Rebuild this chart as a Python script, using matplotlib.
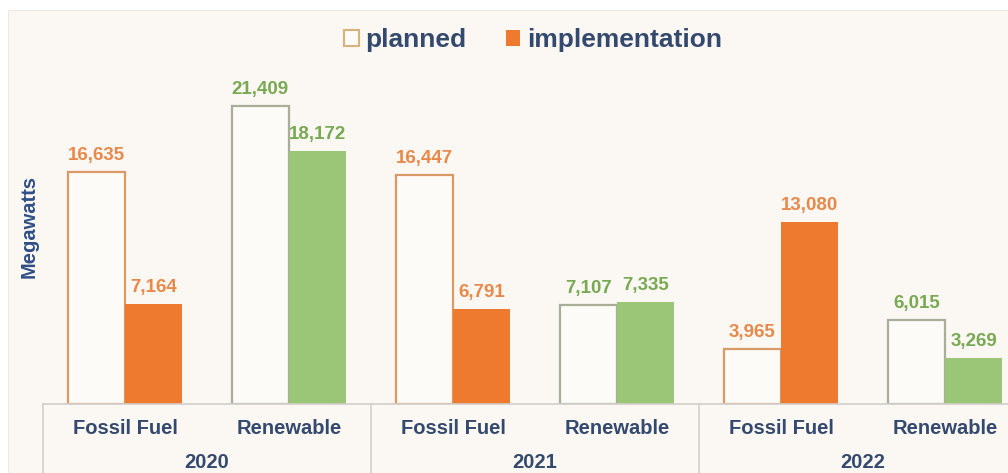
import matplotlib
matplotlib.use("Agg")
import matplotlib.pyplot as plt
from matplotlib.patches import Patch, Rectangle

plt.rcParams["font.family"] = ["Liberation Sans", "DejaVu Sans"]
plt.rcParams["font.weight"] = "bold"

# ── data ──────────────────────────────────────────────────────────────────────
years = ["2020", "2021", "2022"]
sources = ["Fossil Fuel", "Renewable"]
planned = [16635, 21409, 16447, 7107, 3965, 6015]
implementation = [7164, 18172, 6791, 7335, 13080, 3269]

# ── colours ───────────────────────────────────────────────────────────────────
BG = "#FBF7F3"
TEXT_BLUE = "#34496E"
ORANGE = "#EE7A30"
GREEN = "#9CC677"
ORANGE_LABEL = "#E8894A"
GREEN_LABEL = "#78A953"
ORANGE_EDGE = "#D99A68"
GREEN_EDGE = "#A9AE98"
GRID = "#D3CEC9"

fig = plt.figure(figsize=(10.08, 4.73), dpi=100, facecolor="white")
fig.patches.append(Rectangle((8 / 1008, 0), 1.0, 463 / 473,
                             transform=fig.transFigure, facecolor=BG,
                             edgecolor="#EEE9E4", lw=0.8, zorder=-1))

ax = fig.add_axes([43 / 1008, 69 / 473, 984 / 1008, 348 / 473])
ax.set_facecolor("none")

n = len(planned)
xs = list(range(n))
w = 0.35
for i in xs:
    fossil = (i % 2 == 0)
    fill = ORANGE if fossil else GREEN
    edge = ORANGE_EDGE if fossil else GREEN_EDGE
    lab = ORANGE_LABEL if fossil else GREEN_LABEL
    ax.bar(i - w / 2, planned[i], width=w, facecolor="#FDFBF8",
           edgecolor=edge, linewidth=1.6)
    ax.bar(i + w / 2, implementation[i], width=w, facecolor=fill,
           edgecolor="none")
    for xc, v in ((i - w / 2, planned[i]), (i + w / 2, implementation[i])):
        ax.annotate(f"{v:,}", (xc, v), xytext=(0, 12),
                    textcoords="offset points", ha="center", va="center",
                    fontsize=13.5, color=lab, fontweight="bold")

ax.set_xlim(-0.5, n - 0.5)
ax.set_ylim(0, 25000)
ax.set_xticks([])
ax.set_yticks([])
for s in ax.spines.values():
    s.set_visible(False)

# category table under the bars
xt = ax.get_xaxis_transform()
ax.plot([-0.5, n - 0.5], [0, 0], color=GRID, lw=1.2, transform=xt,
        clip_on=False)
for xb in (-0.5, 1.5, 3.5):
    ax.plot([xb, xb], [0, -0.25], color=GRID, lw=1.2, transform=xt,
            clip_on=False)
for i in xs:
    ax.annotate(sources[i % 2], (i, 0), xycoords=xt, xytext=(0, -17.5),
                textcoords="offset points", ha="center", va="center",
                fontsize=14.5, color=TEXT_BLUE, fontweight="bold")
for g, yr in enumerate(years):
    ax.annotate(yr, (2 * g + 0.5, 0), xycoords=xt, xytext=(0, -42),
                textcoords="offset points", ha="center", va="center",
                fontsize=14.5, color=TEXT_BLUE, fontweight="bold")

fig.text(29 / 1008, 1 - 227 / 473, "Megawatts", rotation=90,
         ha="center", va="center", fontsize=14.5, color="#2F4F86",
         fontweight="bold")

handles = [Patch(facecolor="#FDFBF8", edgecolor="#D8B27A", lw=1.5,
                 label="planned"),
           Patch(facecolor=ORANGE, edgecolor="none", label="implementation")]
fig.legend(handles=handles, loc="center", ncol=2,
           bbox_to_anchor=(533 / 1008, 1 - 40 / 473), frameon=False,
           handlelength=0.55, handleheight=0.55,
           handletextpad=0.25, columnspacing=1.5,
           labelcolor=TEXT_BLUE, prop={"weight": "bold", "size": 19})

fig.savefig("out.png", dpi=100, facecolor=fig.get_facecolor())
